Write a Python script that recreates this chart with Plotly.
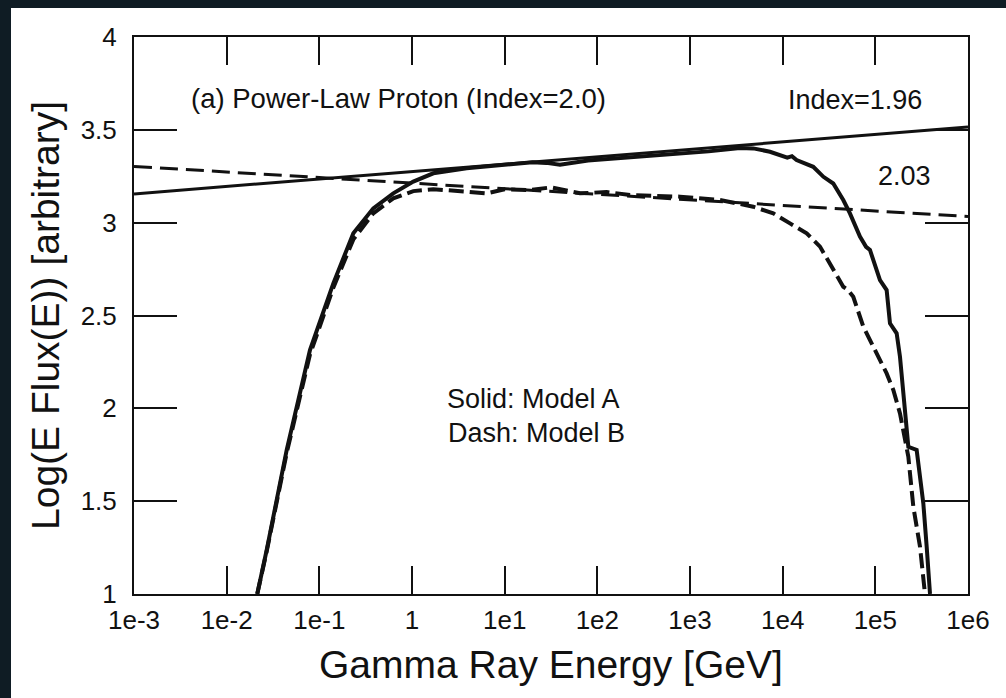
import numpy as np
import plotly.graph_objects as go

# ---- data -------------------------------------------------------------
# log10(E / GeV) and Log(E Flux(E)) for the two models
model_a_logE = [-1.67, -1.568, -1.352, -1.101, -0.849, -0.633, -0.418, -0.202, 0.014, 0.230,
                0.59, 0.734, 1.0, 1.3, 1.45, 1.597, 1.9, 2.1, 2.352, 2.6, 2.892, 3.2, 3.54,
                3.683, 3.863, 3.97, 4.05, 4.1, 4.15, 4.33, 4.40, 4.44, 4.546, 4.654, 4.726,
                4.834, 4.90, 4.942, 5.05, 5.122, 5.158, 5.23, 5.266, 5.302, 5.338, 5.356,
                5.446, 5.482, 5.518, 5.554, 5.59]
model_a_flux = [1.00, 1.237, 1.776, 2.314, 2.673, 2.943, 3.077, 3.158, 3.221, 3.266,
                3.293, 3.300, 3.312, 3.325, 3.322, 3.312, 3.335, 3.342, 3.352, 3.358, 3.370, 3.384, 3.402,
                3.400, 3.382, 3.364, 3.350, 3.358, 3.337, 3.301, 3.270, 3.247, 3.211, 3.122, 3.050,
                2.925, 2.870, 2.853, 2.691, 2.637, 2.458, 2.404, 2.278, 2.100, 1.883, 1.793,
                1.776, 1.614, 1.488, 1.255, 1.00]

model_b_logE = [-1.67, -1.568, -1.352, -1.101, -0.849, -0.633, -0.418, -0.202, 0.014, 0.230,
                0.59, 0.806, 1.0, 1.273, 1.5, 1.813, 2.1, 2.352, 2.892, 3.324, 3.683, 3.899,
                4.079, 4.259, 4.403, 4.546, 4.654, 4.70, 4.762, 4.87, 5.014, 5.122, 5.194,
                5.266, 5.356, 5.41, 5.482, 5.536]
model_b_flux = [1.00, 1.230, 1.760, 2.290, 2.650, 2.910, 3.050, 3.131, 3.170, 3.180,
                3.167, 3.158, 3.180, 3.176, 3.190, 3.158, 3.165, 3.149, 3.140, 3.122, 3.086, 3.050,
                2.996, 2.943, 2.871, 2.745, 2.655, 2.640, 2.601, 2.440, 2.296, 2.188, 2.099,
                1.973, 1.740, 1.470, 1.255, 1.00]

# power-law fits: spectral index and Log(E Flux) at the pivot energy
fit_index = [1.96, 2.03]
fit_pivot_flux = [3.335, 3.168]
fit_pivot_logE = 1.5
fit_logE_range = [-3, 6]

x_tick_vals = [1e-3, 1e-2, 1e-1, 1, 1e1, 1e2, 1e3, 1e4, 1e5, 1e6]
x_tick_text = ["1e-3", "1e-2", "1e-1", "1", "1e1", "1e2", "1e3", "1e4", "1e5", "1e6"]
y_tick_vals = [1, 1.5, 2, 2.5, 3, 3.5, 4]
y_tick_text = ["1", "1.5", "2", "2.5", "3", "3.5", "4"]

# ---- figure -----------------------------------------------------------
FONT = "Liberation Sans, Arial, Helvetica, sans-serif"
INK = "#111111"
BACKDROP = "#0f1c24"

fig = go.Figure()


def fit_line(index, pivot_flux):
    le = np.array(fit_logE_range, dtype=float)
    return 10 ** le, pivot_flux + (2.0 - index) * (le - fit_pivot_logE)


# Index=1.96 fit (solid)
fx, fy = fit_line(fit_index[0], fit_pivot_flux[0])
fig.add_trace(go.Scatter(x=fx, y=fy, mode="lines",
                         line=dict(color=INK, width=3), showlegend=False))
# Index=2.03 fit (dashed)
fx, fy = fit_line(fit_index[1], fit_pivot_flux[1])
fig.add_trace(go.Scatter(x=fx, y=fy, mode="lines",
                         line=dict(color=INK, width=3, dash="18px,8px"), showlegend=False))

# Model B (dashed)
fig.add_trace(go.Scatter(x=10 ** np.array(model_b_logE), y=model_b_flux, mode="lines",
                         line=dict(color=INK, width=4, dash="15px,6px"), showlegend=False))
# Model A (solid)
fig.add_trace(go.Scatter(x=10 ** np.array(model_a_logE), y=model_a_flux, mode="lines",
                         line=dict(color=INK, width=4), showlegend=False))

W, H = 1006, 698
L, R, T, B = 134, 38, 37, 104
PW, PH = W - L - R, H - T - B


def px(x):
    return (x - L) / PW


def py(y):
    return (H - B - y) / PH


# dark strips along the left and top edges of the page
fig.add_shape(type="rect", xref="paper", yref="paper",
              x0=px(-5), x1=px(11), y0=py(H + 5), y1=py(-5),
              fillcolor=BACKDROP, line=dict(width=0), layer="below")
fig.add_shape(type="rect", xref="paper", yref="paper",
              x0=px(-5), x1=px(W + 5), y0=py(8), y1=py(-5),
              fillcolor=BACKDROP, line=dict(width=0), layer="below")

axis_common = dict(showgrid=False, zeroline=False, showline=True, linecolor=INK, linewidth=2,
                   mirror="ticks", ticks="inside", tickwidth=2, tickcolor=INK,
                   tickfont=dict(family=FONT, size=26, color=INK))

fig.update_xaxes(type="log", range=[-3, 6], tickvals=x_tick_vals, ticktext=x_tick_text,
                 ticklen=28, ticklabelstandoff=2, **axis_common)
fig.update_yaxes(range=[1, 4], tickvals=y_tick_vals, ticktext=y_tick_text,
                 ticklen=43, ticklabelstandoff=10, **axis_common)


def label(text, x, y, size=27, xanchor="left", angle=0):
    fig.add_annotation(text=text, xref="paper", yref="paper", x=px(x), y=py(y),
                       xanchor=xanchor, yanchor="middle", showarrow=False, textangle=angle,
                       font=dict(family=FONT, size=size, color=INK))


label("(a) Power-Law Proton (Index=2.0)", 189, 98, size=27.5)
label("Index=1.96", 786, 100)
label("2.03", 876, 176)
label("Solid: Model A", 533, 399, xanchor="center")
label("Dash: Model B", 536, 433, xanchor="center")
label("Gamma Ray Energy [GeV]", 551, 664, size=39, xanchor="center")
label("Log(E Flux(E)) [arbitrary]", 45, 316, size=39, xanchor="center", angle=-90)

fig.update_layout(width=W, height=H, margin=dict(l=L, r=R, t=T, b=B, pad=0),
                  paper_bgcolor="white", plot_bgcolor="white",
                  showlegend=False)

fig.write_html("out.html")
